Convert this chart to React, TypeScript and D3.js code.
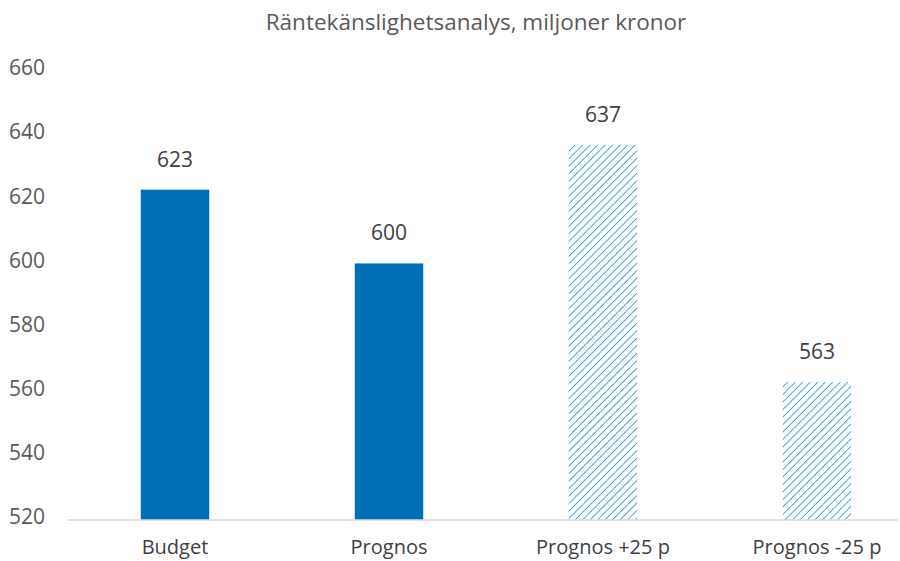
import React from "react";
import * as d3 from "d3";

const categories = ["Budget", "Prognos", "Prognos +25 p", "Prognos -25 p"];
const values = [623, 600, 637, 563];
const hatched = [false, false, true, true];
const yTicks = [520, 540, 560, 580, 600, 620, 640, 660];
const title = "Räntekänslighetsanalys, miljoner kronor";

const W = 900;
const H = 561;
const FONT = "'Open Sans', sans-serif";

const App = () => {
  const x = d3.scaleBand<string>().domain(categories).range([68, 924]).paddingInner(0.68).paddingOuter(0.34);
  const y = d3.scaleLinear().domain([520, 660]).range([520, 71]);

  return (
    <svg width={W} height={H} style={{ position: "absolute", left: 0, top: 0, background: "#fff" }}>
      <defs>
        <pattern id="hatch" width="5.3" height="5.3" patternUnits="userSpaceOnUse" patternTransform="rotate(45)">
          <line x1="0" y1="0" x2="0" y2="5.3" stroke="#3597d8" strokeWidth="1.7" />
        </pattern>
      </defs>
      <text x={476} y={30} textAnchor="middle" fontFamily={FONT} fontSize={22.5} fill="#595959">
        {title}
      </text>
      {yTicks.map((t) => (
        <text key={t} x={45} y={y(t) - 3} dy="0.35em" textAnchor="end" fontFamily={FONT} fontSize={21} fill="#595959">
          {t}
        </text>
      ))}
      {categories.map((c, i) => (
        <g key={c}>
          <rect
            x={x(c)}
            y={y(values[i])}
            width={x.bandwidth()}
            height={y(520) - y(values[i])}
            fill={hatched[i] ? "url(#hatch)" : "#006fb6"}
          />
          <text x={(x(c) as number) + x.bandwidth() / 2} y={y(values[i]) - 23} textAnchor="middle" fontFamily={FONT} fontSize={21} fill="#404040">
            {values[i]}
          </text>
          <text x={(x(c) as number) + x.bandwidth() / 2} y={554} textAnchor="middle" fontFamily={FONT} fontSize={20} fill="#404040">
            {c}
          </text>
        </g>
      ))}
      <line x1={67} x2={898} y1={y(520)} y2={y(520)} stroke="#d9d9d9" strokeWidth={1.5} />
    </svg>
  );
};

export default App;
